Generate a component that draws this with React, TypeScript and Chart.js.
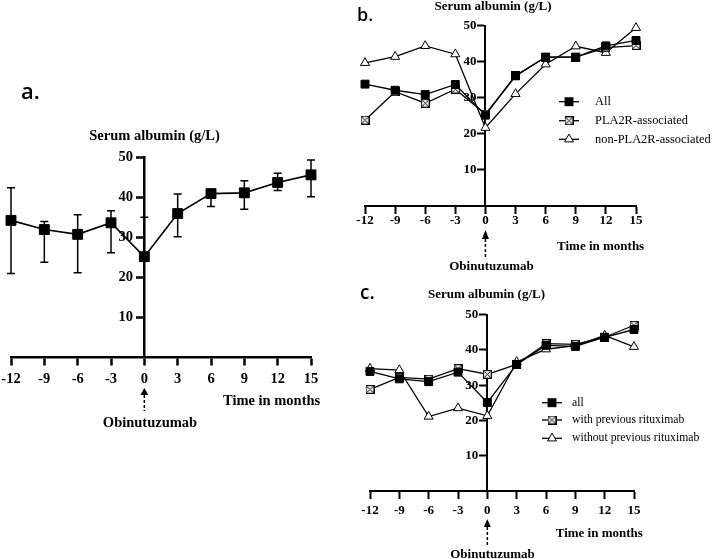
import React, { useEffect, useRef } from 'react';
import { Chart, registerables, LinearScale } from 'chart.js';

// y axis drawn at x = 0: keep tick labels clear of the tick marks
class CrossLinearScale extends (LinearScale as any) {
  static id = 'crossLinear';
  static defaults = {};
  _computeLabelItems(chartArea: any) {
    const items = super._computeLabelItems(chartArea);
    const self: any = this;
    if (self.axis === 'y') {
      const shift = (self.options.grid.tickLength || 0) + (self.options.ticks.padding || 0) + (self.options.border.width || 0) / 2;
      items.forEach((it: any) => {
        it.options.translation = [it.options.translation[0] - shift, it.options.translation[1]];
      });
    }
    return items;
  }
}

Chart.register(...registerables, CrossLinearScale as any);

// ---------- data ----------
const months = [-12, -9, -6, -3, 0, 3, 6, 9, 12, 15];
const yTickValues = [10, 20, 30, 40, 50];

// panel a (mean with error bars)
const aAll = [34.3, 32.0, 30.8, 33.7, 25.2, 36.0, 41.0, 41.2, 43.8, 45.7];
const aErrHigh = [42.5, 34.0, 35.7, 36.7, 35.1, 40.9, 42.0, 44.2, 46.1, 49.4];
const aErrLow = [21.0, 23.8, 21.2, 26.2, 25.2, 30.2, 37.8, 37.1, 41.8, 40.2];

// panel b
const bAll = [33.8, 32.1, 30.9, 33.7, 25.2, 36.1, 41.3, 41.3, 44.4, 45.9];
const bPla2r = [23.8, 31.7, 28.5, 32.4, 25.5, 36.1, 41.3, 41.3, 43.9, 44.5];
const bNonPla2r = [39.7, 41.4, 44.4, 42.1, 21.7, 31.1, 39.3, 44.3, 42.5, 49.4];
const bLabels = ['All', 'PLA2R-associated', 'non-PLA2R-associated'];

// panel c
const cAll = [33.9, 31.8, 31.0, 33.7, 25.1, 35.9, 41.3, 41.0, 43.6, 45.8];
const cWith = [28.8, 32.2, 31.7, 34.7, 33.1, 35.9, 41.8, 41.6, 43.6, 47.0];
const cWithout = [34.7, 34.3, 21.1, 23.5, 21.3, 36.6, 40.2, 41.2, 44.1, 40.9];
const cLabels = ['all', 'with previous rituximab', 'without previous rituximab'];

const titleText = 'Serum albumin (g/L)';
const xTitleText = 'Time in months';
const drugText = 'Obinutuzumab';

// ---------- styles ----------
const SERIF = '"Liberation Serif", "Times New Roman", Times, serif';
const SANS = '"Open Sans", "Noto Sans", Arial, sans-serif';

type Marker = 'square' | 'xsquare' | 'triangle';
type Series = { label: string; data: number[]; marker: Marker };
type Spec = {
  id: string;
  box: { left: number; top: number; width: number; height: number };
  area: { left: number; right: number; top: number; bottom: number };
  series: Series[];
  err?: { low: number[]; high: number[] };
  tickFont: number;
  textFont: number;
  axisWidth: number;
  lineWidth: number;
  tickLen: number;
  xPad: number;
  yPad: number;
  squareR: number;
  triR: number;
  xsq: number;
  letter: { text: string; x: number; y: number; size: number };
  title: { x: number; y: number };
  xTitle: { x: number; y: number };
  drug: { x: number; y: number };
  arrow: { top: number; neck: number; bottom: number; half: number };
  legend?: { x0: number; x1: number; textX: number; rows: number[]; size: number };
};

const specs: Spec[] = [
  {
    id: 'a',
    box: { left: -20, top: 60, width: 365, height: 380 },
    area: { left: 11, right: 311, top: 157.7, bottom: 357.3 },
    series: [{ label: 'All', data: aAll, marker: 'square' }],
    err: { low: aErrLow, high: aErrHigh },
    tickFont: 14.5,
    textFont: 14.5,
    axisWidth: 2.5,
    lineWidth: 1.6,
    tickLen: 7,
    xPad: 6,
    yPad: 3,
    squareR: 7,
    triR: 5,
    xsq: 9,
    letter: { text: 'a.', x: 21, y: 99, size: 22 },
    title: { x: 154.5, y: 136.7 },
    xTitle: { x: 223, y: 401 },
    drug: { x: 150, y: 423 },
    arrow: { top: 388, neck: 395, bottom: 411, half: 4 },
  },
  {
    id: 'b',
    box: { left: 340, top: 0, width: 374, height: 280 },
    area: { left: 365, right: 636, top: 25.7, bottom: 206 },
    series: [
      { label: bLabels[0], data: bAll, marker: 'square' },
      { label: bLabels[1], data: bPla2r, marker: 'xsquare' },
      { label: bLabels[2], data: bNonPla2r, marker: 'triangle' },
    ],
    tickFont: 13,
    textFont: 13,
    axisWidth: 2,
    lineWidth: 1.3,
    tickLen: 7,
    xPad: 0,
    yPad: 1,
    squareR: 5.6,
    triR: 5.2,
    xsq: 9,
    letter: { text: 'b.', x: 357, y: 21, size: 18 },
    title: { x: 493, y: 7 },
    xTitle: { x: 557, y: 246.7 },
    drug: { x: 491.5, y: 266.7 },
    arrow: { top: 230, neck: 239, bottom: 257, half: 3.5 },
    legend: { x0: 559, x1: 579, textX: 595, rows: [101.7, 120.7, 139.3], size: 12.4 },
  },
  {
    id: 'c',
    box: { left: 340, top: 280, width: 374, height: 279 },
    area: { left: 370, right: 634, top: 314.7, bottom: 490.9 },
    series: [
      { label: cLabels[0], data: cAll, marker: 'square' },
      { label: cLabels[1], data: cWith, marker: 'xsquare' },
      { label: cLabels[2], data: cWithout, marker: 'triangle' },
    ],
    tickFont: 13,
    textFont: 13,
    axisWidth: 2,
    lineWidth: 1.3,
    tickLen: 7,
    xPad: 5,
    yPad: 1,
    squareR: 5.6,
    triR: 5.2,
    xsq: 9,
    letter: { text: 'c.', x: 360, y: 299, size: 19 },
    title: { x: 486.5, y: 295 },
    xTitle: { x: 555.7, y: 534 },
    drug: { x: 492.5, y: 555 },
    arrow: { top: 519, neck: 527, bottom: 547, half: 3.5 },
    legend: { x0: 542, x1: 562, textX: 572, rows: [402.7, 420, 438.3], size: 11.7 },
  },
];

function makeXSquare(size: number): HTMLCanvasElement {
  const c = document.createElement('canvas');
  c.width = size;
  c.height = size;
  const g = c.getContext('2d')!;
  g.fillStyle = '#fff';
  g.fillRect(0, 0, size, size);
  g.strokeStyle = '#000';
  g.lineWidth = 1.2;
  g.strokeRect(0.6, 0.6, size - 1.2, size - 1.2);
  g.lineWidth = 1;
  g.beginPath();
  g.moveTo(1.5, 1.5);
  g.lineTo(size - 1.5, size - 1.5);
  g.moveTo(size - 1.5, 1.5);
  g.lineTo(1.5, size - 1.5);
  g.stroke();
  return c;
}

function drawMarker(ctx: CanvasRenderingContext2D, kind: Marker, x: number, y: number, spec: Spec, img: HTMLCanvasElement) {
  ctx.save();
  if (kind === 'square') {
    const s = Math.SQRT1_2 * spec.squareR;
    ctx.fillStyle = '#000';
    ctx.fillRect(x - s - 0.5, y - s - 0.5, 2 * s + 1, 2 * s + 1);
  } else if (kind === 'xsquare') {
    ctx.drawImage(img, x - img.width / 2, y - img.height / 2);
  } else {
    const r = spec.triR;
    ctx.beginPath();
    let rad = 0;
    ctx.moveTo(x + Math.sin(rad) * r, y - Math.cos(rad) * r);
    rad += (2 * Math.PI) / 3;
    ctx.lineTo(x + Math.sin(rad) * r, y - Math.cos(rad) * r);
    rad += (2 * Math.PI) / 3;
    ctx.lineTo(x + Math.sin(rad) * r, y - Math.cos(rad) * r);
    ctx.closePath();
    ctx.fillStyle = '#fff';
    ctx.fill();
    ctx.strokeStyle = '#000';
    ctx.lineWidth = 1;
    ctx.stroke();
  }
  ctx.restore();
}

function makeOverlay(spec: Spec, img: HTMLCanvasElement) {
  const px = (x: number) => x - spec.box.left;
  const py = (y: number) => y - spec.box.top;
  return {
    id: 'overlay_' + spec.id,
    beforeDatasetsDraw(chart: any) {
      if (!spec.err) return;
      const xs = chart.scales.x;
      const ys = chart.scales.y;
      const ctx: CanvasRenderingContext2D = chart.ctx;
      ctx.save();
      ctx.strokeStyle = '#000';
      ctx.lineWidth = 1.5;
      const cap = 4;
      months.forEach((m, i) => {
        const x = xs.getPixelForValue(m);
        const yh = ys.getPixelForValue(spec.err!.high[i]);
        const yl = ys.getPixelForValue(spec.err!.low[i]);
        ctx.beginPath();
        ctx.moveTo(x, yh);
        ctx.lineTo(x, yl);
        ctx.moveTo(x - cap, yh);
        ctx.lineTo(x + cap, yh);
        ctx.moveTo(x - cap, yl);
        ctx.lineTo(x + cap, yl);
        ctx.stroke();
      });
      ctx.restore();
    },
    afterDraw(chart: any) {
      const ctx: CanvasRenderingContext2D = chart.ctx;
      const xs = chart.scales.x;
      ctx.save();
      ctx.fillStyle = '#000';
      // panel letter
      ctx.font = `600 ${spec.letter.size}px ${SANS}`;
      ctx.textAlign = 'left';
      ctx.textBaseline = 'alphabetic';
      ctx.fillText(spec.letter.text, px(spec.letter.x), py(spec.letter.y));
      // title
      ctx.font = `bold ${spec.textFont}px ${SERIF}`;
      ctx.textAlign = 'center';
      ctx.textBaseline = 'middle';
      ctx.fillText(titleText, px(spec.title.x), py(spec.title.y));
      // x title
      ctx.textAlign = 'left';
      ctx.fillText(xTitleText, px(spec.xTitle.x), py(spec.xTitle.y));
      // drug
      ctx.textAlign = 'center';
      ctx.fillText(drugText, px(spec.drug.x), py(spec.drug.y));
      // arrow
      const ax = xs.getPixelForValue(0);
      const a = spec.arrow;
      ctx.beginPath();
      ctx.moveTo(ax, py(a.top));
      ctx.lineTo(ax + a.half, py(a.neck));
      ctx.lineTo(ax - a.half, py(a.neck));
      ctx.closePath();
      ctx.fill();
      ctx.strokeStyle = '#000';
      ctx.lineWidth = 1.5;
      ctx.setLineDash([3, 2]);
      ctx.beginPath();
      ctx.moveTo(ax, py(a.neck));
      ctx.lineTo(ax, py(a.bottom));
      ctx.stroke();
      ctx.setLineDash([]);
      // legend
      if (spec.legend) {
        const L = spec.legend;
        spec.series.forEach((s, i) => {
          const y = py(L.rows[i]);
          ctx.strokeStyle = '#000';
          ctx.lineWidth = spec.lineWidth;
          ctx.beginPath();
          ctx.moveTo(px(L.x0), y);
          ctx.lineTo(px(L.x1), y);
          ctx.stroke();
          drawMarker(ctx, s.marker, px((L.x0 + L.x1) / 2), y, spec, img);
          ctx.fillStyle = '#000';
          ctx.font = `${L.size}px ${SERIF}`;
          ctx.textAlign = 'left';
          ctx.textBaseline = 'middle';
          ctx.fillText(s.label, px(L.textX), y);
        });
      }
      ctx.restore();
    },
  };
}

function buildConfig(spec: Spec): any {
  const img = makeXSquare(spec.xsq);
  const tickFont = { family: SERIF, size: spec.tickFont, weight: 'bold' as const };
  const datasets = spec.series.map((s) => ({
    label: s.label,
    data: months.map((m, i) => ({ x: m, y: s.data[i] })),
    borderColor: '#000',
    borderWidth: spec.lineWidth,
    backgroundColor: s.marker === 'square' ? '#000' : '#fff',
    pointBackgroundColor: s.marker === 'square' ? '#000' : '#fff',
    pointBorderColor: '#000',
    pointBorderWidth: 1,
    pointStyle: s.marker === 'square' ? 'rect' : s.marker === 'triangle' ? 'triangle' : img,
    pointRadius: s.marker === 'square' ? spec.squareR : s.marker === 'triangle' ? spec.triR : 5,
    pointHoverRadius: 0,
    tension: 0,
    fill: false,
    clip: false,
  }));
  const grid = {
    display: true,
    drawOnChartArea: false,
    drawTicks: true,
    tickLength: spec.tickLen,
    tickWidth: spec.axisWidth,
    tickColor: '#000',
  };
  const border = { display: true, color: '#000', width: spec.axisWidth };
  return {
    type: 'line',
    data: { datasets },
    options: {
      animation: false,
      responsive: false,
      maintainAspectRatio: false,
      devicePixelRatio: 1,
      events: [],
      layout: {
        padding: {
          left: spec.area.left - spec.box.left,
          right: spec.box.left + spec.box.width - spec.area.right,
          top: spec.area.top - spec.box.top,
          bottom: spec.box.top + spec.box.height - spec.area.bottom,
        },
      },
      plugins: {
        legend: { display: false },
        tooltip: { enabled: false },
        title: { display: false },
      },
      scales: {
        x: {
          type: 'linear',
          min: -12,
          max: 15,
          position: { y: 0 },
          afterBuildTicks: (s: any) => {
            s.ticks = months.map((v) => ({ value: v }));
          },
          grid,
          border,
          ticks: {
            color: '#000',
            font: tickFont,
            padding: spec.xPad,
            autoSkip: false,
            maxRotation: 0,
            callback: (v: any) => String(v),
          },
        },
        y: {
          type: 'crossLinear',
          min: 0,
          max: 50,
          position: { x: 0 },
          afterBuildTicks: (s: any) => {
            s.ticks = yTickValues.map((v) => ({ value: v }));
          },
          grid,
          border,
          ticks: {
            color: '#000',
            font: tickFont,
            padding: spec.yPad,
            autoSkip: false,
            callback: (v: any) => String(v),
          },
        },
      },
    },
    plugins: [makeOverlay(spec, img)],
  };
}

function Panel({ spec }: { spec: Spec }) {
  const ref = useRef<HTMLCanvasElement>(null);
  useEffect(() => {
    const chart = new Chart(ref.current as HTMLCanvasElement, buildConfig(spec));
    return () => chart.destroy();
  }, [spec]);
  return (
    <canvas
      ref={ref}
      width={spec.box.width}
      height={spec.box.height}
      style={{
        position: 'absolute',
        left: spec.box.left,
        top: spec.box.top,
        width: spec.box.width,
        height: spec.box.height,
      }}
    />
  );
}

export default function App() {
  return (
    <div
      style={{
        position: 'fixed',
        left: 0,
        top: 0,
        width: 714,
        height: 559,
        background: '#fff',
        overflow: 'hidden',
      }}
    >
      {specs.map((s) => (
        <Panel key={s.id} spec={s} />
      ))}
    </div>
  );
}
